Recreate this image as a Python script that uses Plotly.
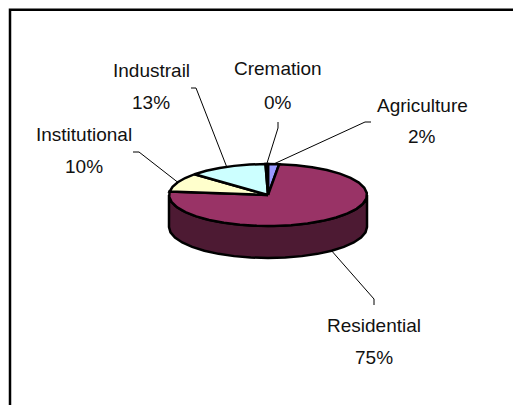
import numpy as np
import plotly.graph_objects as go

categories = ["Agriculture", "Residential", "Institutional", "Industrail", "Cremation"]
values = [1.8, 75.0, 9.9, 12.9, 0.4]
top_colors = ["#9999FF", "#993366", "#FFFFCC", "#CCFFFF", "#660066"]
side_colors = ["#4D4D80", "#4D1A33", "#808066", "#668080", "#330033"]

# Layout (pixel-like plot units), not data
CX, CY, RX, RY, DEPTH = 268, 195, 99, 31, 32
FONT = dict(family="Liberation Sans, Arial, sans-serif", size=19, color="#111111")
label_pos = {
    "Agriculture": (422, 105, 136),
    "Residential": (374, 325, 357),
    "Institutional": (84, 134, 166),
    "Industrail": (151, 70, 102),
    "Cremation": (278, 68, 102),
}
leader_elbows = {
    "Agriculture": [(365, 122), (371, 122)],
    "Residential": [(374, 299), (374, 305)],
    "Institutional": [(139, 152), (133, 152)],
    "Industrail": [(196, 88), (191, 88)],
    "Cremation": [(278, 128), (278, 122)],
}
leader_frac = {"Residential": 0.389}  # attach point on the lower rim for the front slice


def pt(frac, dy=0.0):
    a = 2 * np.pi * frac
    return CX + RX * np.sin(a), CY - RY * np.cos(a) + dy


def arc(f0, f1, dy=0.0, step=0.028):
    n = max(2, int(np.ceil((f1 - f0) / step)) + 1)
    fs = np.linspace(f0, f1, n)
    return [pt(f, dy) for f in fs]


fig = go.Figure()
total = sum(values)
edges = np.concatenate([[0], np.cumsum(values) / total])

# Side wall of the visible front half (fractions 0.25 to 0.75)
for i, cat in enumerate(categories):
    f0, f1 = max(edges[i], 0.25), min(edges[i + 1], 0.75)
    if f1 <= f0:
        continue
    upper = arc(f0, f1)
    lower = arc(f0, f1, DEPTH)
    poly = upper + lower[::-1] + upper[:1]
    fig.add_trace(go.Scatter(x=[p[0] for p in poly], y=[p[1] for p in poly], mode="lines",
                             fill="toself", fillcolor=side_colors[i],
                             line=dict(color="black", width=2.5), hoverinfo="skip", name=cat))

# Top faces
for i, cat in enumerate(categories):
    poly = [(CX, CY)] + arc(edges[i], edges[i + 1]) + [(CX, CY)]
    fig.add_trace(go.Scatter(x=[p[0] for p in poly], y=[p[1] for p in poly], mode="lines",
                             fill="toself", fillcolor=top_colors[i],
                             line=dict(color="black", width=2.5), hoverinfo="skip", name=cat))

# Leader lines and labels
annotations = []
for i, cat in enumerate(categories):
    mid = (edges[i] + edges[i + 1]) / 2
    if cat in leader_frac:
        start = pt(leader_frac[cat], DEPTH)
    else:
        start = pt(mid)
    path = [start] + leader_elbows[cat]
    fig.add_trace(go.Scatter(x=[p[0] for p in path], y=[p[1] for p in path], mode="lines",
                             line=dict(color="black", width=1), hoverinfo="skip", name=cat + " leader"))
    x, y1, y2 = label_pos[cat]
    pct = f"{round(values[i] / total * 100):d}%"
    annotations.append(dict(x=x, y=y1, text=cat, showarrow=False, font=FONT, xanchor="center", yanchor="middle"))
    annotations.append(dict(x=x, y=y2, text=pct, showarrow=False, font=FONT, xanchor="center", yanchor="middle"))

fig.update_layout(
    width=513, height=405, margin=dict(l=0, r=0, t=0, b=0),
    paper_bgcolor="white", plot_bgcolor="white", showlegend=False,
    xaxis=dict(range=[0, 513], visible=False, fixedrange=True),
    yaxis=dict(range=[405, 0], visible=False, fixedrange=True),
    annotations=annotations,
    shapes=[dict(type="rect", x0=10, y0=9.7, x1=530, y1=430, line=dict(color="black", width=2.5), layer="below")],
)
fig.write_html("out.html", config={"displayModeBar": False},
               post_script="document.body.style.margin='0';document.documentElement.style.overflow='hidden';")
